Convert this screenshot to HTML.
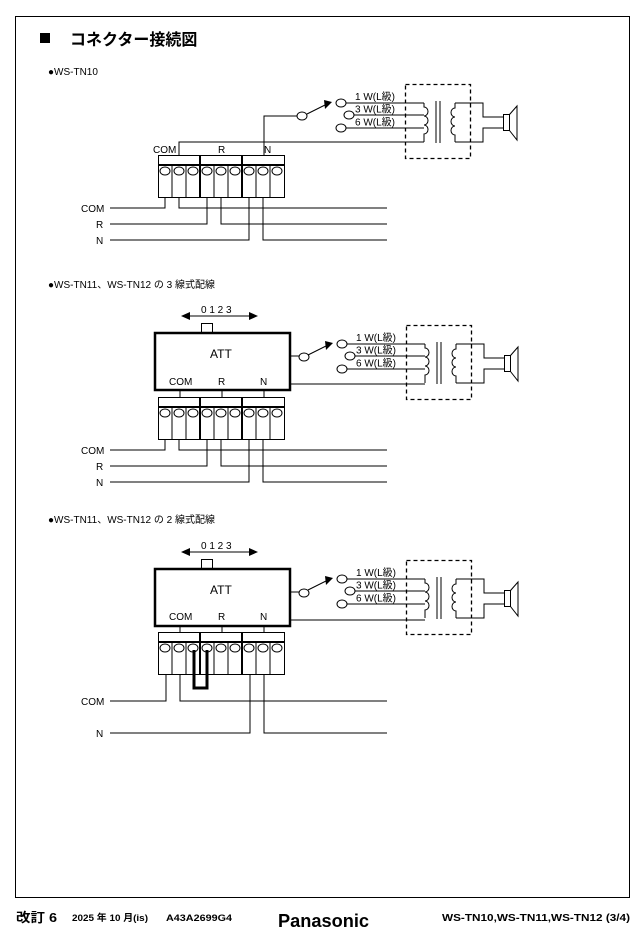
<!DOCTYPE html>
<html><head><meta charset="utf-8"><style>
body{margin:0;background:#fff;}
svg{display:block;font-family:"Liberation Sans","Noto Sans CJK JP",sans-serif;}
</style></head><body>
<svg width="638" height="940" viewBox="0 0 638 940" xmlns="http://www.w3.org/2000/svg">
<defs>
<g id="tb" fill="none" stroke="#000">
<rect x="158.5" y="155.5" width="126" height="42" stroke-width="1"/>
<line x1="158" y1="165" x2="285" y2="165" stroke-width="2"/>
<line x1="200" y1="155" x2="200" y2="197" stroke-width="2"/>
<line x1="242" y1="155" x2="242" y2="197" stroke-width="2"/>
<g stroke-width="1">
<line x1="172" y1="165" x2="172" y2="197"/><line x1="186" y1="165" x2="186" y2="197"/>
<line x1="214" y1="165" x2="214" y2="197"/><line x1="228" y1="165" x2="228" y2="197"/>
<line x1="256" y1="165" x2="256" y2="197"/><line x1="270" y1="165" x2="270" y2="197"/>
<ellipse cx="165" cy="171" rx="5" ry="4"/><ellipse cx="179" cy="171" rx="5" ry="4"/><ellipse cx="193" cy="171" rx="5" ry="4"/>
<ellipse cx="207" cy="171" rx="5" ry="4"/><ellipse cx="221" cy="171" rx="5" ry="4"/><ellipse cx="235" cy="171" rx="5" ry="4"/>
<ellipse cx="249" cy="171" rx="5" ry="4"/><ellipse cx="263" cy="171" rx="5" ry="4"/><ellipse cx="277" cy="171" rx="5" ry="4"/>
</g></g>
<g id="xf" fill="none" stroke="#000" stroke-width="1">
<rect x="405.5" y="84.5" width="65" height="74" stroke-dasharray="4,3" stroke-width="1.3"/>
<path d="M424 103 V107 a4 4.5 0 0 1 0 9 a4 4.5 0 0 1 0 9 a4 4.5 0 0 1 0 9 V142"/>
<line x1="436" y1="101" x2="436" y2="143"/><line x1="440" y1="101" x2="440" y2="143"/>
<path d="M455 103 V108 a4 4.5 0 0 0 0 9 a4 4.5 0 0 0 0 9 a4 4.5 0 0 0 0 9 V142"/>
<path d="M455 103 H483 V117 H503"/><path d="M455 142 H483 V128 H503"/>
<rect x="503.5" y="114.5" width="6" height="16"/>
<path d="M509.5 114.5 L517 106 V140 L509.5 130.5"/>
<ellipse cx="341" cy="103" rx="5" ry="4"/><ellipse cx="349" cy="115" rx="5" ry="4"/><ellipse cx="341" cy="128" rx="5" ry="4"/>
<line x1="346" y1="103" x2="424" y2="103"/><line x1="354" y1="115" x2="424" y2="115"/><line x1="346" y1="128" x2="424" y2="128"/>
<line x1="307" y1="114" x2="325" y2="105"/>
</g>
<g id="xft" font-size="10">
<text x="355" y="100">1 W(L級)</text><text x="355" y="112.5">3 W(L級)</text><text x="355" y="125.5">6 W(L級)</text>
<path d="M324 100 L332 102 L325 109 Z" fill="#000"/>
</g>
</defs>

<rect x="15.5" y="16.5" width="614" height="881" fill="none" stroke="#000" stroke-width="1"/>
<rect x="40" y="33" width="10" height="10" fill="#000"/>
<text x="70" y="45" font-size="16" font-weight="bold">コネクター接続図</text>
<text x="48" y="75" font-size="10">●WS-TN10</text>

<!-- Diagram 1 -->
<use href="#tb"/>
<use href="#xf"/><use href="#xft"/>
<g fill="none" stroke="#000" stroke-width="1">
<ellipse cx="302" cy="116" rx="5" ry="4"/>
<path d="M264 155 V116 H297"/>
<path d="M179 155 V142 H424"/>
<path d="M110 208 H165 V197"/><path d="M179 197 V208 H387"/>
<path d="M110 224 H207 V197"/><path d="M221 197 V224 H387"/>
<path d="M110 240 H249 V197"/><path d="M263 197 V240 H387"/>
</g>
<g font-size="10">
<text x="153" y="153">COM</text><text x="218" y="153">R</text><text x="264" y="153">N</text>
<text x="81" y="212">COM</text><text x="96" y="228">R</text><text x="96" y="244">N</text>
</g>

<!-- Diagram 2 -->
<text x="48" y="288" font-size="10">●WS-TN11、WS-TN12 の 3 線式配線</text>
<use href="#tb" transform="translate(0,242)"/>
<use href="#xf" transform="translate(1,241)"/><use href="#xft" transform="translate(1,241)"/>
<g fill="none" stroke="#000" stroke-width="1">
<rect x="155" y="333" width="135" height="57" stroke-width="2.5"/>
<rect x="201.5" y="323.5" width="11" height="10"/>
<line x1="188" y1="316" x2="251" y2="316"/>
<ellipse cx="304" cy="357" rx="5" ry="4"/>
<line x1="291" y1="356" x2="299" y2="356"/>
<line x1="291" y1="384" x2="425" y2="384"/>
<line x1="180" y1="390" x2="180" y2="397"/><line x1="222" y1="390" x2="222" y2="397"/><line x1="264" y1="390" x2="264" y2="397"/>
<path d="M110 450 H165 V439"/><path d="M179 439 V450 H387"/>
<path d="M110 466 H207 V439"/><path d="M221 439 V466 H387"/>
<path d="M110 482 H249 V439"/><path d="M263 439 V482 H387"/>
</g>
<path d="M181 316 L190 312 V320 Z M258 316 L249 312 V320 Z" fill="#000"/>
<g font-size="10">
<text x="201" y="313">0 1 2 3</text>
<text x="210" y="358" font-size="12">ATT</text>
<text x="169" y="385">COM</text><text x="218" y="385">R</text><text x="260" y="385">N</text>
<text x="81" y="454">COM</text><text x="96" y="470">R</text><text x="96" y="486">N</text>
</g>

<!-- Diagram 3 -->
<text x="48" y="523" font-size="10">●WS-TN11、WS-TN12 の 2 線式配線</text>
<use href="#tb" transform="translate(0,477)"/>
<use href="#xf" transform="translate(1,476)"/><use href="#xft" transform="translate(1,476)"/>
<g fill="none" stroke="#000" stroke-width="1">
<rect x="155" y="569" width="135" height="57" stroke-width="2.5"/>
<rect x="201.5" y="559.5" width="11" height="10"/>
<line x1="188" y1="552" x2="251" y2="552"/>
<ellipse cx="304" cy="593" rx="5" ry="4"/>
<line x1="291" y1="592" x2="299" y2="592"/>
<line x1="291" y1="620" x2="425" y2="620"/>
<line x1="180" y1="626" x2="180" y2="632"/><line x1="222" y1="626" x2="222" y2="632"/><line x1="264" y1="626" x2="264" y2="632"/>
<path d="M194 650 V688 H207 V650" stroke-width="3"/>
<path d="M110 701 H166 V674"/><path d="M180 674 V701 H387"/>
<path d="M110 733 H250 V674"/><path d="M264 674 V733 H387"/>
</g>
<path d="M181 552 L190 548 V556 Z M258 552 L249 548 V556 Z" fill="#000"/>
<g font-size="10">
<text x="201" y="549">0 1 2 3</text>
<text x="210" y="594" font-size="12">ATT</text>
<text x="169" y="620">COM</text><text x="218" y="620">R</text><text x="260" y="620">N</text>
<text x="81" y="705">COM</text><text x="96" y="737">N</text>
</g>

<!-- Footer -->
<text x="16" y="922" font-size="13" font-weight="bold" textLength="41" lengthAdjust="spacingAndGlyphs">改訂 6</text>
<text x="72" y="921" font-size="9.5" font-weight="bold" textLength="76" lengthAdjust="spacingAndGlyphs">2025 年 10 月(is)</text>
<text x="166" y="921" font-size="9.5" font-weight="bold" textLength="66" lengthAdjust="spacingAndGlyphs">A43A2699G4</text>
<text x="278" y="927" font-size="18" font-weight="bold" textLength="91" lengthAdjust="spacingAndGlyphs">Panasonic</text>
<text x="442" y="921" font-size="10" font-weight="bold" textLength="188" lengthAdjust="spacingAndGlyphs">WS-TN10,WS-TN11,WS-TN12 (3/4)</text>
</svg>
</body></html>
